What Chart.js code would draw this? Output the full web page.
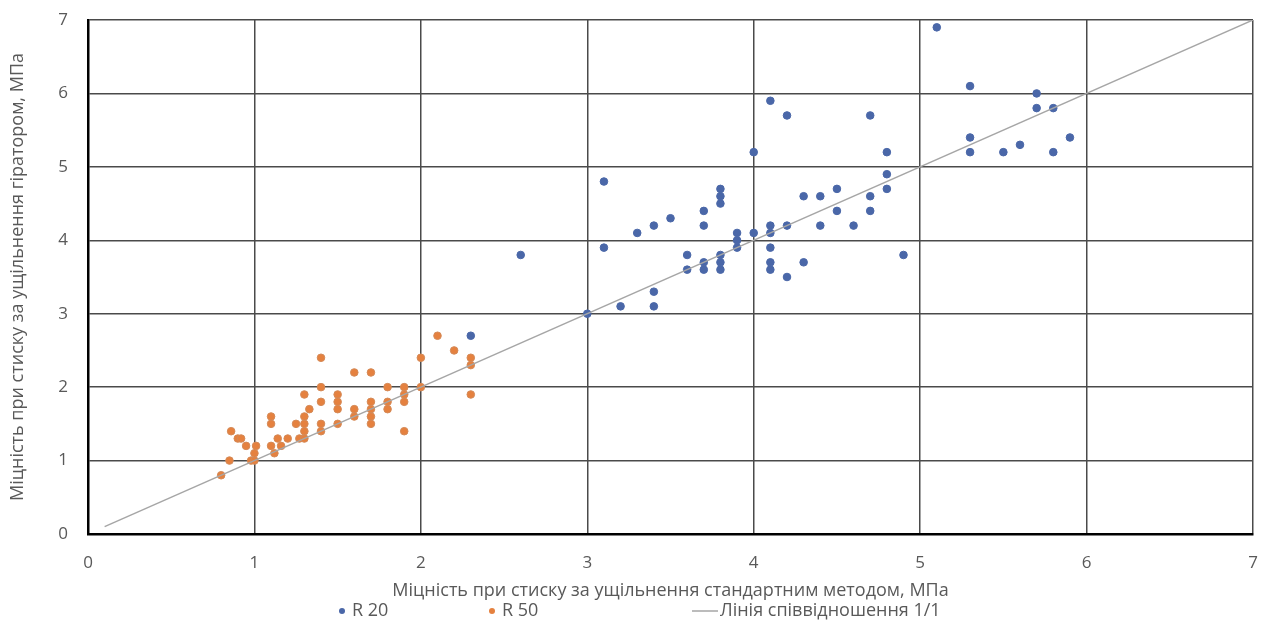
<!DOCTYPE html>
<html>
<head>
<meta charset="utf-8">
<script src="https://cdn.jsdelivr.net/npm/chart.js@4.4.1/dist/chart.umd.min.js"></script>
<style>
  html, body { margin: 0; padding: 0; background: #fff; }
  #wrap { width: 1273px; height: 620px; }
</style>
</head>
<body>
<div id="wrap"><canvas id="myChart"></canvas></div>
<script>
// R 20 series (standard method, gyrator), MPa
const r20X = [2.3, 2.6, 3.0, 3.1, 3.1, 3.2, 3.3, 3.4, 3.4, 3.4, 3.5, 3.6, 3.6, 3.7, 3.7, 3.7, 3.7,
  3.8, 3.8, 3.8, 3.8, 3.8, 3.8, 3.9, 3.9, 3.9, 4.0, 4.0, 4.1, 4.1, 4.1, 4.1, 4.1, 4.1, 4.2, 4.2, 4.2,
  4.3, 4.3, 4.4, 4.4, 4.5, 4.5, 4.6, 4.7, 4.7, 4.7, 4.8, 4.8, 4.8, 4.9, 5.1, 5.3, 5.3, 5.3, 5.5, 5.6,
  5.7, 5.7, 5.8, 5.8, 5.9];
const r20Y = [2.7, 3.8, 3.0, 4.8, 3.9, 3.1, 4.1, 4.2, 3.3, 3.1, 4.3, 3.8, 3.6, 4.4, 4.2, 3.7, 3.6,
  4.7, 4.6, 4.5, 3.8, 3.7, 3.6, 4.1, 4.0, 3.9, 5.2, 4.1, 5.9, 4.2, 4.1, 3.9, 3.7, 3.6, 5.7, 4.2, 3.5,
  4.6, 3.7, 4.6, 4.2, 4.7, 4.4, 4.2, 5.7, 4.6, 4.4, 5.2, 4.9, 4.7, 3.8, 6.9, 6.1, 5.4, 5.2, 5.2, 5.3,
  6.0, 5.8, 5.8, 5.2, 5.4];

// R 50 series
const r50X = [0.8, 0.85, 0.86, 0.9, 0.92, 0.95, 0.98, 1.0, 1.0, 1.01, 1.1, 1.12, 1.1, 1.1, 1.14, 1.16,
  1.2, 1.25, 1.27, 1.3, 1.3, 1.3, 1.3, 1.33, 1.3, 1.4, 1.4, 1.4, 1.4, 1.4, 1.5, 1.5, 1.5, 1.5, 1.6,
  1.6, 1.6, 1.7, 1.7, 1.7, 1.7, 1.7, 1.8, 1.8, 1.8, 1.9, 1.9, 1.9, 1.9, 2.0, 2.0, 2.1, 2.2, 2.3, 2.3, 2.3];
const r50Y = [0.8, 1.0, 1.4, 1.3, 1.3, 1.2, 1.0, 1.0, 1.1, 1.2, 1.2, 1.1, 1.6, 1.5, 1.3, 1.2,
  1.3, 1.5, 1.3, 1.3, 1.4, 1.5, 1.6, 1.7, 1.9, 1.8, 1.5, 1.4, 2.0, 2.4, 1.9, 1.8, 1.7, 1.5, 1.6,
  1.7, 2.2, 2.2, 1.8, 1.7, 1.6, 1.5, 2.0, 1.8, 1.7, 2.0, 1.9, 1.8, 1.4, 2.0, 2.4, 2.7, 2.5, 2.4, 2.3, 1.9];

// 1/1 reference line
const lineX = [0.1, 7];
const lineY = [0.1, 7];

const seriesNames = ["R 20", "R 50", "Лінія співвідношення 1/1"];
const xTitle = "Міцність при стиску за ущільнення стандартним методом, МПа";
const yTitle = "Міцність при стиску за ущільнення гіратором, МПа";

const toPoints = (xs, ys) => xs.map((x, i) => ({ x: x, y: ys[i] }));

const FONT = "'Open Sans', sans-serif";
const TEXT = "#595959";
const GRID = "#4a4a4a";

// legend drawn in one row under the x-axis title
const bottomLegend = {
  id: "bottomLegend",
  afterDraw(chart) {
    const c = chart.ctx;
    const y = 611;
    const slots = [342, 492, 692];
    c.save();
    c.font = "18px " + FONT;
    c.textBaseline = "middle";
    chart.data.datasets.forEach((ds, i) => {
      const x = slots[i];
      let tx;
      if (ds.showLine) {
        c.strokeStyle = ds.borderColor;
        c.lineWidth = 1.5;
        c.beginPath();
        c.moveTo(x, y);
        c.lineTo(x + 26, y);
        c.stroke();
        tx = x + 28;
      } else {
        c.fillStyle = ds.backgroundColor;
        c.beginPath();
        c.arc(x, y, 3, 0, Math.PI * 2);
        c.fill();
        tx = x + 10;
      }
      c.fillStyle = TEXT;
      c.fillText(ds.label, tx, y);
    });
    c.restore();
  },
};

new Chart(document.getElementById("myChart"), {
  type: "scatter",
  data: {
    datasets: [
      {
        label: seriesNames[0],
        data: toPoints(r20X, r20Y),
        backgroundColor: "#4a67a8",
        borderColor: "#4a67a8",
        pointRadius: 3.8,
        order: 2,
      },
      {
        label: seriesNames[1],
        data: toPoints(r50X, r50Y),
        backgroundColor: "#e5813f",
        borderColor: "#d48a58",
        pointRadius: 3.8,
        order: 1,
      },
      {
        label: seriesNames[2],
        data: toPoints(lineX, lineY),
        showLine: true,
        borderColor: "#a6a6a6",
        backgroundColor: "#a6a6a6",
        borderWidth: 1.5,
        pointRadius: 0,
        order: 0,
      },
    ],
  },
  options: {
    responsive: true,
    maintainAspectRatio: false,
    animation: false,
    layout: {
      padding: { top: 20, right: 20, left: 0, bottom: 0 },
    },
    plugins: {
      legend: { display: false },
      tooltip: { enabled: false },
    },
    scales: {
      x: {
        type: "linear",
        min: 0,
        max: 7,
        ticks: { stepSize: 1, padding: 19, color: TEXT, font: { family: FONT, size: 17 } },
        grid: { color: GRID, lineWidth: 1.5, drawTicks: false },
        border: { color: "#000", width: 2.5 },
        title: {
          display: true,
          text: xTitle,
          color: TEXT,
          font: { family: FONT, size: 18 },
          padding: { top: 0, bottom: 18 },
        },
        afterFit(scale) {
          scale.height = 86;
          scale.paddingLeft = 0;
          scale.paddingRight = 0;
        },
      },
      y: {
        type: "linear",
        min: 0,
        max: 7,
        ticks: { stepSize: 1, padding: 20, color: TEXT, font: { family: FONT, size: 17 } },
        grid: { color: GRID, lineWidth: 1.5, drawTicks: false },
        border: { color: "#000", width: 2.5 },
        title: {
          display: true,
          text: yTitle,
          color: TEXT,
          font: { family: FONT, size: 18 },
          padding: { top: 7, bottom: 0 },
        },
        afterFit(scale) {
          scale.width = 88;
          scale.paddingTop = 0;
          scale.paddingBottom = 0;
        },
      },
    },
  },
  plugins: [bottomLegend],
});
</script>
</body>
</html>
